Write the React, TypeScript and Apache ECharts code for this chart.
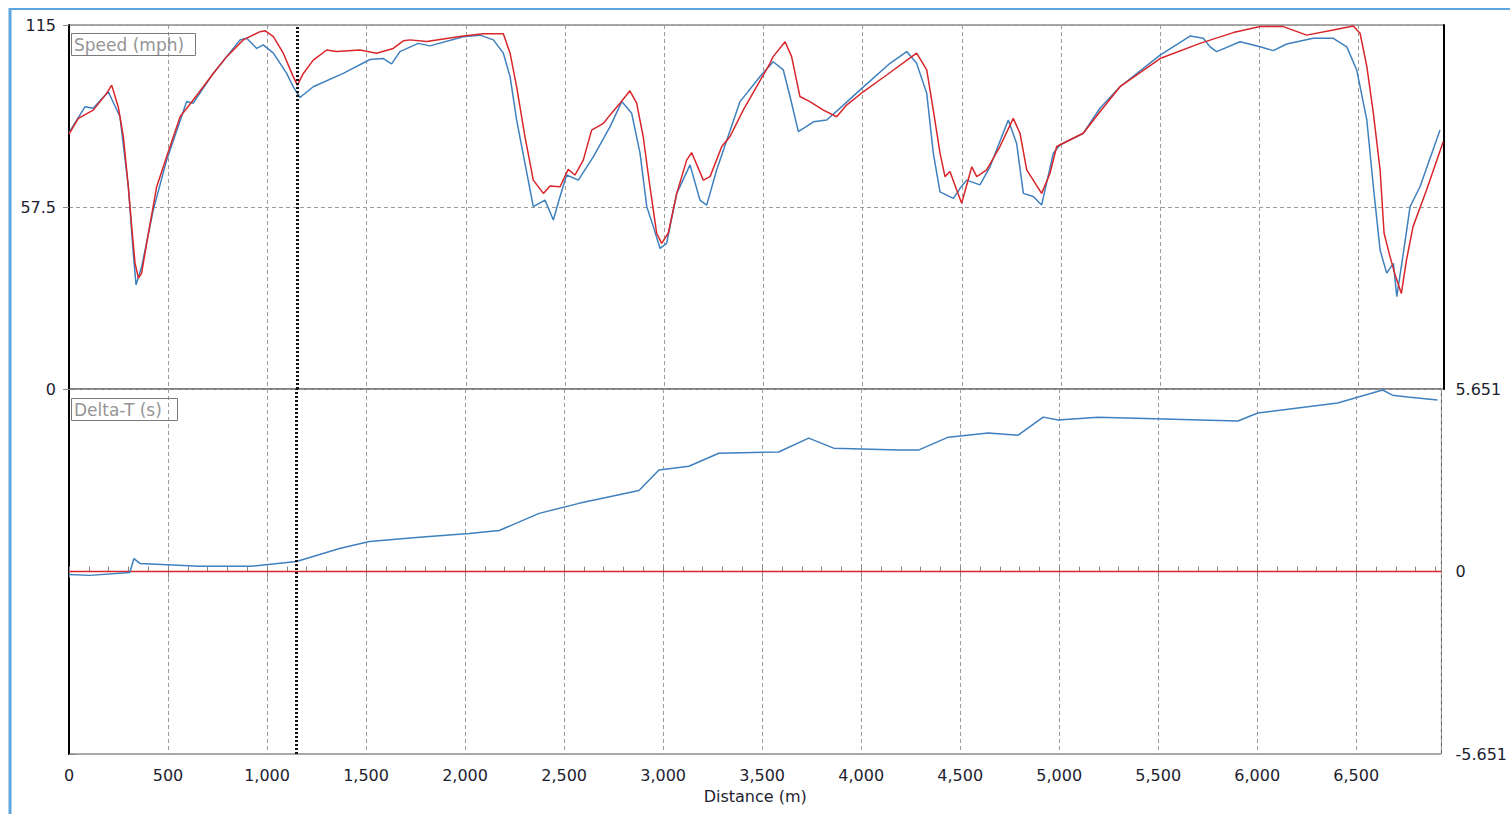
import React, { useEffect, useRef } from "react";
import * as echarts from "echarts";

// Distance range of the lap (m)
const distanceMax = 6930;
const cursorDistance = 1150;

// Speed (mph) – reference lap (red): [distance m, speed mph]
const speedRed: [number, number][] = [
  [0, 80.5], [47, 85.5], [122, 88.1], [190, 93.4], [215, 96.0], [248, 89.2], [274, 79.7], [299, 63.9],
  [316, 51.3], [333, 39.7], [350, 35.0], [366, 36.6], [400, 49.2], [442, 63.9], [492, 73.4], [560, 86.0],
  [626, 91.3], [727, 99.7], [795, 105.0], [878, 110.3], [963, 112.9], [988, 113.2], [1030, 111.3],
  [1080, 106.1], [1130, 98.7], [1151, 96.0], [1181, 99.7], [1231, 103.9], [1299, 107.1], [1349, 106.6],
  [1467, 107.1], [1551, 106.1], [1634, 107.6], [1685, 110.0], [1719, 110.3], [1803, 109.8], [1987, 111.5],
  [2088, 112.2], [2189, 112.2], [2223, 106.1], [2256, 95.5], [2298, 79.7], [2340, 66.0], [2391, 61.8],
  [2424, 64.1], [2475, 63.9], [2516, 69.4], [2550, 67.6], [2592, 72.3], [2634, 81.8], [2693, 83.9],
  [2727, 86.6], [2777, 90.3], [2827, 94.2], [2861, 90.3], [2894, 79.7], [2928, 63.9], [2962, 49.2],
  [2987, 46.0], [3020, 49.2], [3063, 61.8], [3113, 72.3], [3138, 74.7], [3197, 66.0], [3231, 67.1],
  [3290, 76.6], [3331, 79.7], [3398, 88.1], [3533, 102.9], [3549, 105.0], [3609, 109.7], [3642, 105.0],
  [3684, 92.4], [3734, 90.8], [3802, 88.1], [3869, 86.0], [3919, 89.7], [4003, 93.9], [4121, 99.2],
  [4272, 106.1], [4323, 100.8], [4356, 88.1], [4390, 74.5], [4415, 67.1], [4440, 68.7], [4474, 62.9],
  [4499, 58.7], [4550, 70.2], [4575, 67.1], [4625, 69.2], [4692, 76.6], [4759, 85.5], [4793, 80.8],
  [4827, 69.2], [4902, 61.8], [4944, 68.1], [4978, 76.6], [5112, 80.8], [5196, 87.6], [5297, 95.5],
  [5499, 104.4], [5700, 109.2], [5868, 112.6], [6003, 114.5], [6120, 114.5], [6238, 111.8], [6372, 113.4],
  [6473, 114.7], [6507, 112.4], [6541, 101.9], [6574, 87.1], [6608, 69.2], [6628, 49.2], [6656, 42.3],
  [6681, 36.6], [6715, 30.2], [6741, 40.8], [6774, 51.3], [6842, 62.9], [6926, 78.1],
];

// Speed (mph) – comparison lap (blue)
const speedBlue: [number, number][] = [
  [0, 81.0], [81, 89.2], [122, 88.7], [198, 93.9], [257, 86.0], [299, 63.9], [324, 42.9], [338, 32.9],
  [366, 38.6], [425, 56.6], [492, 72.3], [593, 90.8], [626, 90.3], [727, 99.7], [862, 110.3], [896, 110.8],
  [946, 107.6], [979, 108.7], [1030, 106.1], [1097, 99.7], [1130, 95.5], [1164, 92.1], [1231, 95.5],
  [1382, 99.7], [1517, 104.1], [1584, 104.4], [1626, 102.7], [1668, 106.6], [1760, 109.2], [1819, 108.4],
  [1987, 111.3], [2071, 111.8], [2139, 110.3], [2189, 106.1], [2223, 98.7], [2256, 85.0], [2298, 71.3],
  [2340, 57.6], [2399, 59.7], [2441, 53.4], [2475, 60.8], [2508, 67.6], [2567, 66.0], [2643, 73.4],
  [2727, 82.9], [2786, 90.8], [2836, 87.1], [2878, 74.5], [2912, 57.6], [2945, 51.3], [2979, 44.4],
  [3012, 46.0], [3063, 61.8], [3130, 70.8], [3180, 59.7], [3214, 58.1], [3264, 69.2], [3382, 90.8],
  [3483, 98.7], [3549, 103.4], [3600, 100.8], [3634, 92.4], [3676, 81.3], [3752, 84.4], [3819, 85.0],
  [3903, 89.7], [3987, 94.5], [4138, 102.9], [4222, 106.6], [4272, 102.9], [4323, 93.4], [4356, 74.5],
  [4390, 62.3], [4457, 60.2], [4491, 63.4], [4524, 66.0], [4591, 64.5], [4642, 70.2], [4734, 85.0],
  [4776, 77.6], [4810, 61.8], [4860, 60.8], [4902, 58.1], [4961, 74.5], [4994, 77.1], [5112, 80.8],
  [5196, 88.7], [5297, 95.5], [5499, 105.5], [5650, 111.5], [5717, 110.8], [5751, 108.1], [5784, 106.6],
  [5902, 109.7], [6003, 108.1], [6070, 106.9], [6137, 109.0], [6271, 110.8], [6372, 110.8], [6440, 108.1],
  [6490, 100.8], [6541, 85.0], [6574, 63.9], [6608, 43.9], [6641, 36.6], [6675, 39.7], [6692, 29.2],
  [6725, 42.9], [6759, 57.6], [6809, 63.9], [6910, 81.8],
];

// Delta-T (s) – reference lap (red) is the zero line
const deltaRed: [number, number][] = [[0, 0], [distanceMax, 0]];

// Delta-T (s) – comparison lap (blue)
const deltaBlue: [number, number][] = [
  [0, -0.09], [106, -0.12], [307, -0.03], [328, 0.4], [358, 0.25], [660, 0.16], [912, 0.16], [1149, 0.31],
  [1366, 0.71], [1517, 0.93], [1769, 1.06], [2021, 1.18], [2172, 1.27], [2374, 1.8], [2575, 2.11],
  [2878, 2.51], [2979, 3.14], [3130, 3.26], [3281, 3.66], [3583, 3.7], [3735, 4.13], [3861, 3.82],
  [4188, 3.76], [4289, 3.76], [4440, 4.16], [4642, 4.29], [4793, 4.22], [4919, 4.78], [4995, 4.69],
  [5196, 4.78], [5902, 4.66], [6003, 4.91], [6406, 5.22], [6633, 5.62], [6683, 5.46], [6759, 5.4],
  [6910, 5.31],
];

const speedTicks = { min: 0, max: 115, interval: 57.5 };
const deltaTicks = { min: -5.651, max: 5.651, interval: 5.651 };

const RED = "#d8262a";
const BLUE = "#3f80be";
const FONT = "DejaVu Sans";
const LABEL = "#1e1e30";

export default function App() {
  const ref = useRef<HTMLDivElement>(null);

  useEffect(() => {
    if (!ref.current) return;
    const chart = echarts.init(ref.current, null, { renderer: "svg" });
    const gridLine = { show: true, lineStyle: { color: "#9c9c9c", type: [4, 3] as any, width: 1 } };
    const cursor = {
      silent: true,
      symbol: ["none", "none"],
      label: { show: false },
      lineStyle: { color: "#111", type: [2, 2] as any, width: 3 },
      data: [{ xAxis: cursorDistance }],
    };
    const titleBox = (text: string, top: number, padRight: number) => ({
      text,
      left: 71,
      top,
      padding: [3, padRight, 3, 3],
      borderColor: "#7a7a7a",
      borderWidth: 1,
      textStyle: { color: "#959595", fontSize: 17, fontWeight: "normal", fontFamily: FONT },
    });
    chart.setOption({
      animation: false,
      backgroundColor: "#ffffff",
      textStyle: { fontFamily: FONT },
      title: [titleBox("Speed (mph)", 33, 12), titleBox("Delta-T (s)", 398, 16)],
      grid: [
        { left: 69, top: 25, width: 1375, height: 364, show: true, borderColor: "#555", borderWidth: 1 },
        { left: 69, top: 389, width: 1375, height: 365, show: true, borderColor: "#555", borderWidth: 1 },
      ],
      xAxis: [
        {
          gridIndex: 0, type: "value", min: 0, max: distanceMax, interval: 500,
          axisLabel: { show: false }, axisTick: { show: false }, axisLine: { show: false },
          splitLine: gridLine,
        },
        {
          gridIndex: 1, type: "value", min: 0, max: distanceMax, interval: 500,
          axisLabel: {
            fontSize: 16, color: LABEL, margin: 13, showMaxLabel: false,
            formatter: (v: number) => v.toLocaleString("en-US"),
          },
          axisTick: { show: true, length: 6, lineStyle: { color: "#888" } },
          axisLine: { show: true, lineStyle: { color: "#555" } },
          splitLine: gridLine,
          name: "Distance (m)", nameLocation: "middle", nameGap: 34,
          nameTextStyle: { fontSize: 16, color: LABEL, fontFamily: FONT },
        },
        {
          gridIndex: 1, type: "value", min: 0, max: distanceMax, interval: 100,
          axisLabel: { show: false }, axisLine: { show: false }, splitLine: { show: false },
          axisTick: { show: true, length: 5, lineStyle: { color: "#888" } },
        },
      ],
      yAxis: [
        {
          gridIndex: 0, type: "value", position: "left", ...speedTicks,
          axisLine: { show: true, lineStyle: { color: "#000", width: 2 } },
          axisTick: { show: true, length: 6, lineStyle: { color: "#888" } },
          axisLabel: { fontSize: 16, color: LABEL, margin: 13 },
          splitLine: gridLine,
        },
        {
          gridIndex: 0, type: "value", position: "right", ...speedTicks,
          axisLine: { show: true, lineStyle: { color: "#000", width: 2 } },
          axisTick: { show: false }, axisLabel: { show: false }, splitLine: { show: false },
        },
        {
          gridIndex: 1, type: "value", position: "right", ...deltaTicks,
          axisLine: { show: true, lineStyle: { color: "#000", width: 2 } },
          axisTick: { show: true, length: 7, lineStyle: { color: "#888" } },
          axisLabel: {
            fontSize: 16, color: LABEL, margin: 14,
            formatter: (v: number) => (Math.abs(v) < 1e-9 ? "0" : v.toFixed(3)),
          },
          splitLine: { show: false },
        },
        {
          gridIndex: 1, type: "value", position: "left", ...deltaTicks,
          axisLine: { show: true, lineStyle: { color: "#000", width: 2 } },
          axisTick: { show: false }, axisLabel: { show: false }, splitLine: { show: false },
        },
      ],
      series: [
        {
          type: "line", xAxisIndex: 0, yAxisIndex: 0, data: speedBlue, showSymbol: false, symbol: "none",
          lineStyle: { color: BLUE, width: 1.5 }, itemStyle: { color: BLUE },
        },
        {
          type: "line", xAxisIndex: 0, yAxisIndex: 0, data: speedRed, showSymbol: false, symbol: "none",
          lineStyle: { color: RED, width: 1.5 }, itemStyle: { color: RED }, markLine: cursor,
        },
        {
          type: "line", xAxisIndex: 1, yAxisIndex: 2, data: deltaRed, showSymbol: false, symbol: "none",
          lineStyle: { color: RED, width: 1.5 }, itemStyle: { color: RED },
        },
        {
          type: "line", xAxisIndex: 1, yAxisIndex: 2, data: deltaBlue, showSymbol: false, symbol: "none",
          lineStyle: { color: BLUE, width: 1.5 }, itemStyle: { color: BLUE }, markLine: cursor,
        },
      ],
      graphic: [
        { type: "line", shape: { x1: 10, y1: 8, x2: 10, y2: 814 }, style: { stroke: "#5ea6dd", lineWidth: 3 } },
        { type: "line", shape: { x1: 9, y1: 9, x2: 1510, y2: 9 }, style: { stroke: "#5ea6dd", lineWidth: 2 } },
      ],
    });
    return () => chart.dispose();
  }, []);

  return (
    <div
      ref={ref}
      style={{ position: "absolute", left: 0, top: 0, width: 1510, height: 814, background: "#fff" }}
    />
  );
}
